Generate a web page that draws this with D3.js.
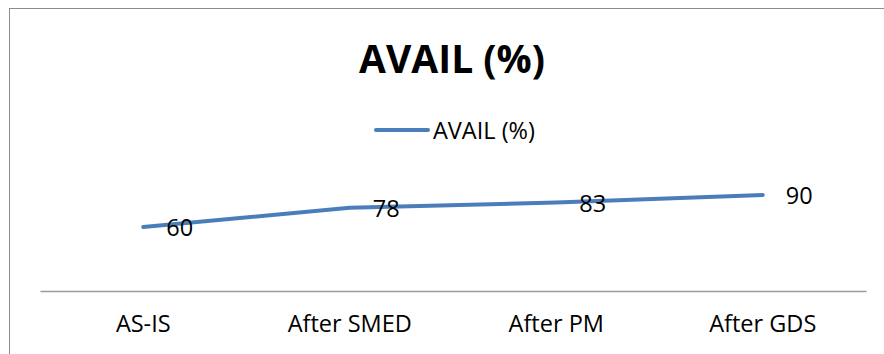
<!DOCTYPE html>
<html>
<head>
<meta charset="utf-8">
<script src="https://cdn.jsdelivr.net/npm/d3@7"></script>
<style>
  html, body { margin: 0; padding: 0; background: #fff; }
  svg { display: block; }
  text { font-family: "Open Sans", "Noto Sans", sans-serif; fill: #000; }
</style>
</head>
<body>
<svg id="chart" width="884" height="354"></svg>
<script>
// Availability per improvement stage
const categories = ["AS-IS", "After SMED", "After PM", "After GDS"];
const availValues = [60, 78, 83, 90];
const seriesName = "AVAIL (%)";
const chartTitle = "AVAIL (%)";

const lineColor = "#4a7ebb";
const svg = d3.select("#chart");

// Outer chart frame
svg.append("rect")
  .attr("x", 9.5).attr("y", 8.5)
  .attr("width", 900).attr("height", 400)
  .attr("fill", "none").attr("stroke", "#8c8c8c").attr("stroke-width", 1);

// Scales
const x = d3.scaleBand().domain(categories).range([40, 866]);
const y = d3.scaleLinear().domain([0, 100]).range([291, 184.3]);
const cx = d => x(d) + x.bandwidth() / 2;

// Title
svg.append("text")
  .attr("x", 452).attr("y", 73)
  .attr("text-anchor", "middle")
  .attr("font-weight", "bold")
  .attr("font-size", 39)
  .text(chartTitle);

// Legend
svg.append("line")
  .attr("x1", 376).attr("x2", 428)
  .attr("y1", 130).attr("y2", 130)
  .attr("stroke", lineColor).attr("stroke-width", 4).attr("stroke-linecap", "round");
svg.append("text")
  .attr("x", 433).attr("y", 139)
  .attr("font-size", 23.5)
  .text(seriesName);

// Category axis
const xAxis = svg.append("g")
  .attr("transform", "translate(0,291)")
  .call(d3.axisBottom(x).tickSize(0).tickPadding(24));
xAxis.select(".domain").attr("stroke", "#9a9a9a").attr("stroke-width", 1.5);
xAxis.selectAll("text")
  .attr("font-size", 23.5)
  .attr("font-family", "'Open Sans', 'Noto Sans', sans-serif")
  .attr("fill", "#000");

// Series line
const data = categories.map((c, i) => ({ c, v: availValues[i] }));
svg.append("path")
  .datum(data)
  .attr("fill", "none")
  .attr("stroke", lineColor)
  .attr("stroke-width", 4)
  .attr("stroke-linecap", "round")
  .attr("stroke-linejoin", "round")
  .attr("d", d3.line().x(d => cx(d.c)).y(d => y(d.v)));

// Value labels to the right of each point
svg.selectAll(".val")
  .data(data)
  .enter().append("text")
  .attr("class", "val")
  .attr("x", d => cx(d.c) + 23)
  .attr("y", d => y(d.v) + 9.5)
  .attr("font-size", 23.5)
  .text(d => d.v);
</script>
</body>
</html>
